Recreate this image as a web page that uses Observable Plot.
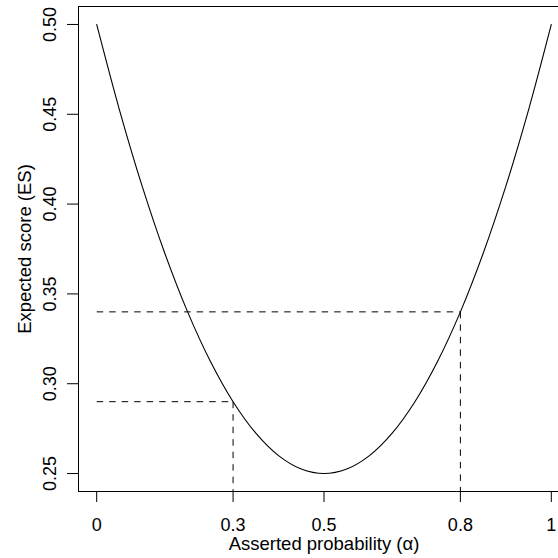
<!DOCTYPE html>
<html>
<head>
<meta charset="utf-8">
<script src="https://cdn.jsdelivr.net/npm/d3@7"></script>
<script src="https://cdn.jsdelivr.net/npm/@observablehq/plot@0.6"></script>
<style>
  html, body { margin: 0; padding: 0; background: #fff; }
  svg { display: block; }
</style>
</head>
<body>
<div id="chart"></div>
<script>
// Curve
const alphaValues = [0, 0.05, 0.1, 0.15, 0.2, 0.25, 0.3, 0.35, 0.4, 0.45, 0.5, 0.55, 0.6, 0.65, 0.7, 0.75, 0.8, 0.85, 0.9, 0.95, 1];
const esValues = [0.5, 0.4525, 0.41, 0.3725, 0.34, 0.3125, 0.29, 0.2725, 0.26, 0.2525, 0.25, 0.2525, 0.26, 0.2725, 0.29, 0.3125, 0.34, 0.3725, 0.41, 0.4525, 0.5];

// Highlighted points (dashed guides)
const markAlpha = [0.3, 0.8];
const markES = [0.29, 0.34];

// Ticks
const xTicks = [0, 0.3, 0.5, 0.8, 1];
const xTickLabels = ["0", "0.3", "0.5", "0.8", "1"];
const yTicks = [0.25, 0.30, 0.35, 0.40, 0.45, 0.50];

const xTitle = "Asserted probability (α)";
const yTitle = "Expected score (ES)";

const xDomain = [-0.04, 1.04];
const yDomain = [0.24, 0.51];

const curve = alphaValues.map((a, i) => ({a, es: esValues[i]}));
const guides = markAlpha.map((a, i) => ({a, es: markES[i]}));

const FONT = "'Liberation Sans', Arial, Helvetica, sans-serif";
const FS = 18;
const TFS = 18.5;

const chart = Plot.plot({
  width: 558,
  height: 558,
  marginLeft: 78,
  marginRight: 0,
  marginTop: 6,
  marginBottom: 67,
  style: {fontFamily: FONT, fontSize: FS + "px", color: "#000", background: "#fff"},
  x: {domain: xDomain, range: [78, 569]},
  y: {domain: yDomain},
  marks: [
    // box
    Plot.ruleY([yDomain[1]], {stroke: "#000", strokeWidth: 1}),
    Plot.ruleY([yDomain[0]], {stroke: "#000", strokeWidth: 1}),
    Plot.ruleX([xDomain[0]], {stroke: "#000", strokeWidth: 1}),
    // axes
    Plot.axisX({
      ticks: xTicks,
      tickFormat: (d) => xTickLabels[xTicks.indexOf(d)],
      tickSize: 11,
      tickPadding: 16,
      label: null,
      fontSize: FS
    }),
    Plot.axisY({
      ticks: yTicks,
      tickFormat: d3.format(".2f"),
      tickSize: 11,
      tickRotate: -90,
      tickPadding: 12,
      label: null,
      fontSize: FS
    }),
    // dashed guides
    Plot.link(guides, {x1: xTicks[0], y1: "es", x2: "a", y2: "es", stroke: "#000", strokeWidth: 1, strokeDasharray: "6.5,6"}),
    Plot.link(guides, {x1: "a", y1: "es", x2: "a", y2: yDomain[0], stroke: "#000", strokeWidth: 1, strokeDasharray: "6.5,6"}),
    // curve
    Plot.line(curve, {x: "a", y: "es", stroke: "#000", strokeWidth: 1.1, curve: "catmull-rom"}),
    // axis titles
    Plot.text([xTitle], {x: 0.5, frameAnchor: "bottom", dy: 53, text: (d) => d, fontSize: TFS, textAnchor: "middle", lineAnchor: "middle", fill: "#000"}),
    Plot.text([yTitle], {frameAnchor: "left", dx: -53, rotate: -90, text: (d) => d, fontSize: TFS, textAnchor: "middle", lineAnchor: "middle", fill: "#000"})
  ]
});

document.getElementById("chart").appendChild(chart);
</script>
</body>
</html>
